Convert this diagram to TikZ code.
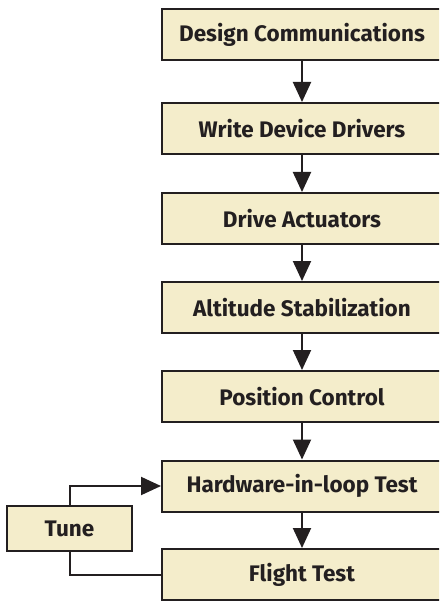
\documentclass[tikz,border=0pt]{standalone}
\usepackage{fontspec}
\setmainfont{Fira Sans}
\usetikzlibrary{arrows.meta}
\definecolor{boxfill}{RGB}{244,237,203}
\definecolor{edge}{RGB}{35,31,32}
\tikzset{
  stepbox/.style={draw=edge, line width=2pt, fill=boxfill, minimum width=280pt, minimum height=51pt, inner sep=0pt, font=\fontsize{22.5}{26}\selectfont\bfseries, text=edge},
  tunebox/.style={draw=edge, line width=2pt, fill=boxfill, minimum width=125pt, minimum height=45pt, inner sep=0pt, font=\fontsize{22.5}{26}\selectfont\bfseries, text=edge},
  conn/.style={draw=edge, line width=2pt},
  arr/.style={conn, -{Triangle[length=20pt,width=18pt]}}
}
\begin{document}
\begin{tikzpicture}[x=1pt,y=-1pt]
\useasboundingbox (0,0) rectangle (439,601);
\begin{scope}
\clip (0,0) rectangle (439,601);
\node[stepbox] (a) at (302,34.5) {Design Communications};
\node[stepbox] (b) at (302,128.5) {Write Device Drivers};
\node[stepbox] (c) at (302,218.5) {Drive Actuators};
\node[stepbox] (d) at (302,307.5) {Altitude Stabilization};
\node[stepbox] (e) at (302,396.5) {Position Control};
\node[stepbox] (f) at (302,486) {Hardware-in-loop Test};
\node[stepbox] (g) at (302,574.5) {Flight Test};
\node[tunebox] (t) at (69.5,528.5) {Tune};
\draw[arr] (a) -- (b);
\draw[arr] (b) -- (c);
\draw[arr] (c) -- (d);
\draw[arr] (d) -- (e);
\draw[arr] (e) -- (f);
\draw[arr] (f) -- (g);
\draw[arr] (t.north) |- (f.west);
\draw[conn] (t.south) |- (g.west);
\end{scope}
\end{tikzpicture}
\end{document}
